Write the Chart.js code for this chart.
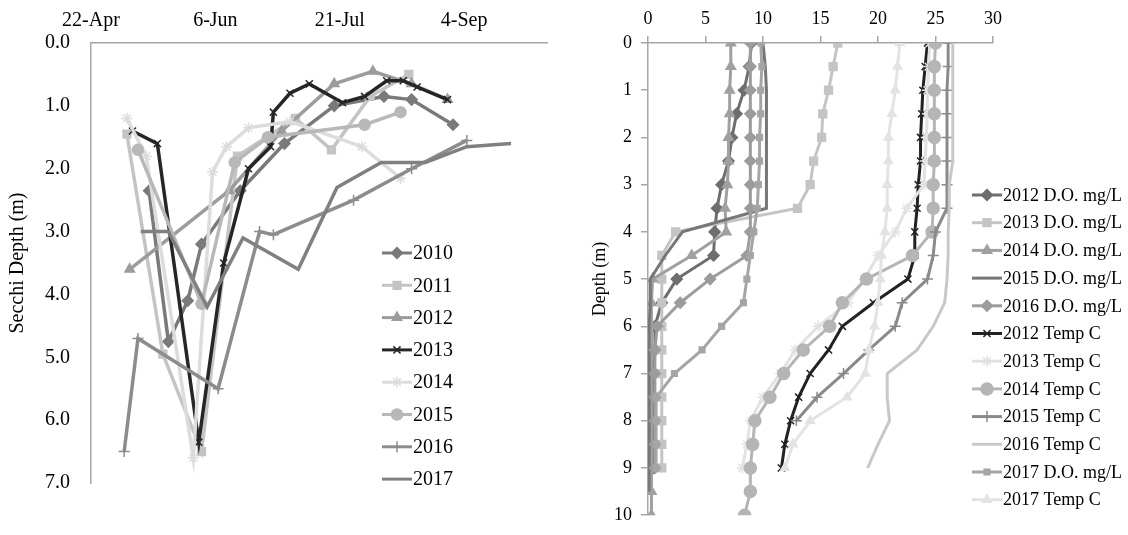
<!DOCTYPE html>
<html>
<head>
<meta charset="utf-8">
<script src="https://cdn.jsdelivr.net/npm/chart.js@4.4.1/dist/chart.umd.min.js"></script>
<style>
    html, body { margin: 0; padding: 0; background: #fff; }
    #wrap { position: relative; width: 1128px; height: 535px; }
    #secchiChart { position: absolute; left: 0; top: 0; }
    #profileChart { position: absolute; left: 560px; top: 0; }
</style>
</head>
<body>
<div id="wrap">
    <canvas id="secchiChart" width="560" height="535"></canvas>
    <canvas id="profileChart" width="568" height="535"></canvas>
</div>
<script>
// ---- Secchi depth (left panel): x = days after 22-Apr, y = depth (m)
const dateTickDays = [0, 45, 90, 135];
const dateTickLabels = ['22-Apr', '6-Jun', '21-Jul', '4-Sep'];

const days2010 = [21, 28, 35, 40, 54, 70, 88, 106, 116, 131];
const secchi2010 = [2.35, 4.75, 4.1, 3.2, 2.35, 1.6, 1.0, 0.85, 0.9, 1.3];
const days2011 = [13, 26, 40, 53, 74, 87, 101, 115];
const secchi2011 = [1.45, 4.95, 6.5, 1.8, 1.2, 1.7, 0.85, 0.5];
const days2012 = [14, 50, 69, 88, 102, 116, 129];
const secchi2012 = [3.6, 2.35, 1.4, 0.65, 0.45, 0.65, 0.9];
const days2013 = [15, 24, 39, 48, 57, 65, 66, 72, 79, 91, 99, 107, 113, 118, 129];
const secchi2013 = [1.4, 1.6, 6.35, 3.5, 2.0, 1.65, 1.1, 0.8, 0.65, 0.95, 0.85, 0.6, 0.6, 0.7, 0.9];
const days2014 = [13, 20, 37, 44, 49, 57, 72, 98, 112];
const secchi2014 = [1.2, 1.8, 6.6, 2.05, 1.65, 1.35, 1.25, 1.65, 2.15];
const days2015 = [17, 40, 52, 64, 99, 112];
const secchi2015 = [1.7, 4.15, 1.9, 1.5, 1.3, 1.1];
const days2016 = [12, 17, 46, 61, 66, 95, 116, 136];
const secchi2016 = [6.5, 4.7, 5.5, 3.0, 3.05, 2.5, 2.0, 1.55];
const days2017 = [18, 28, 42, 55, 75, 89, 105, 121, 136, 152];
const secchi2017 = [3.0, 3.0, 4.2, 3.1, 3.6, 2.3, 1.9, 1.9, 1.65, 1.6];

// ---- Depth profiles (right panel): depth (m) vs value
const profileDepths = [0, 0.5, 1, 1.5, 2, 2.5, 3, 3.5, 4, 4.5, 5, 5.5, 6, 6.5, 7, 7.5, 8, 8.5, 9, 9.5, 10];

const do2012 = [9.0, 8.8, 8.35, 7.7, 7.3, 7.0, 6.4, 6.0, 5.8, 5.7, 2.5, 1.2, 0.6, 0.6, 0.5, 0.5, 0.5, 0.5, 0.5];
const do2013 = [16.5, 16.1, 15.7, 15.2, 15.1, 14.4, 14.1, 13.0, 2.4, 1.2, 1.2, 1.2, 1.2, 1.2, 1.2, 1.2, 1.2, 1.2, 1.2];
const do2014 = [7.2, 7.2, 7.1, 7.1, 7.0, 7.0, 6.9, 6.7, 6.8, 3.8, 0.4, 0.3, 0.3, 0.3, 0.3, 0.3, 0.3, 0.3, 0.3, 0.3, 0.3];
const do2015 = [10.0, 10.2, 10.3, 10.3, 10.3, 10.3, 10.3, 10.3, 3.0, 1.5, 0.2, 0.2, 0.1, 0.1, 0.1, 0.1, 0.1, 0.1, 0.1, 0.1];
const do2016 = [8.9, 8.9, 8.9, 8.9, 8.9, 8.9, 8.9, 8.9, 8.9, 8.6, 5.4, 2.8, 0.8, 0.6, 0.6, 0.6, 0.6, 0.6, 0.6];
const temp2012 = [24.3, 24.1, 23.9, 23.8, 23.7, 23.7, 23.5, 23.4, 23.2, 23.2, 22.6, 19.6, 16.9, 15.7, 14.1, 13.1, 12.4, 11.9, 11.6];
const temp2013 = [24.5, 24.4, 24.3, 24.3, 24.2, 24.1, 24.0, 22.5, 21.5, 20.0, 18.8, 17.4, 14.8, 12.8, 11.5, 10.0, 8.9, 8.6, 8.2];
const temp2014 = [25.0, 24.9, 24.9, 24.9, 24.9, 24.9, 24.8, 24.8, 24.7, 23.0, 19.0, 16.9, 15.8, 13.5, 11.8, 10.6, 9.3, 9.1, 8.9, 8.9, 8.4];
const temp2015 = [26.1, 26.1, 26.0, 26.0, 26.0, 26.0, 26.0, 26.0, 25.0, 24.8, 24.3, 22.1, 21.5, 19.2, 17.0, 14.7, 12.9];
const temp2016 = [26.5, 26.5, 26.5, 26.5, 26.5, 26.5, 26.2, 26.2, 26.1, 26.1, 26.0, 25.8, 24.8, 23.4, 20.8, 20.8, 21.0, 20.0, 19.1];
const do2017 = [9.8, 9.9, 9.8, 9.8, 9.7, 9.7, 9.6, 9.5, 9.2, 8.9, 8.6, 8.3, 6.4, 4.7, 2.3, 0.7, 0.7, 0.7, 0.7];
const temp2017 = [21.9, 21.7, 21.5, 21.2, 20.9, 20.9, 20.8, 20.8, 20.6, 20.3, 20.2, 20.0, 19.7, 19.2, 18.9, 17.3, 14.1, 12.6, 11.9];

const serif = "'Liberation Serif', 'Times New Roman', serif";
Chart.defaults.font.family = serif;
Chart.defaults.color = '#000';
const axisGray = '#a6a6a6';

function toPoints(xs, ys) {
    return xs.map((x, i) => ({ x: x, y: ys[i] }));
}

function makeSeries(label, points, color, style, radius, width, index, count) {
    return {
        label: label,
        data: points,
        borderColor: color,
        backgroundColor: color,
        pointBackgroundColor: color,
        pointBorderColor: color,
        borderWidth: width,
        pointStyle: style || false,
        pointRadius: style ? radius : 0,
        pointBorderWidth: 1.5,
        tension: 0,
        order: count - index
    };
}

// legend drawn Excel style: short line with the marker in the middle
function excelLegend(id, x0, y0, gap, fontSize) {
    return {
        id: id,
        afterDraw(chart) {
            const ctx = chart.ctx;
            ctx.save();
            chart.data.datasets.forEach((ds, i) => {
                const y = y0 + i * gap;
                ctx.strokeStyle = ds.borderColor;
                ctx.lineWidth = 3;
                ctx.beginPath();
                ctx.moveTo(x0, y);
                ctx.lineTo(x0 + 30, y);
                ctx.stroke();
                if (ds.pointStyle) {
                    ctx.fillStyle = ds.borderColor;
                    ctx.lineWidth = 1.5;
                    Chart.helpers.drawPoint(ctx, {
                        pointStyle: ds.pointStyle, radius: ds.pointRadius, rotation: 0, borderWidth: 1.5
                    }, x0 + 15, y);
                }
                ctx.fillStyle = '#000';
                ctx.font = fontSize + 'px ' + serif;
                ctx.textAlign = 'left';
                ctx.textBaseline = 'middle';
                ctx.fillText(ds.label, x0 + 31, y + 1);
            });
            ctx.restore();
        }
    };
}

// Secchi chart
const secchiDefs = [
    ['2010', days2010, secchi2010, '#7a7a7a', 'rectRot', 5.5],
    ['2011', days2011, secchi2011, '#c4c4c4', 'rect', 5.5],
    ['2012', days2012, secchi2012, '#9c9c9c', 'triangle', 5.5],
    ['2013', days2013, secchi2013, '#262626', 'crossRot', 5],
    ['2014', days2014, secchi2014, '#dcdcdc', 'star', 5.5],
    ['2015', days2015, secchi2015, '#b8b8b8', 'circle', 5.5],
    ['2016', days2016, secchi2016, '#8c8c8c', 'cross', 5.5],
    ['2017', days2017, secchi2017, '#808080', null, 0]
];

new Chart(document.getElementById('secchiChart'), {
    type: 'line',
    data: {
        datasets: secchiDefs.map((d, i) =>
            makeSeries(d[0], toPoints(d[1], d[2]), d[3], d[4], d[5], 3.5, i, secchiDefs.length))
    },
    options: {
        responsive: false,
        animation: false,
        layout: { padding: { left: 0, top: 0, right: 13, bottom: 52 } },
        plugins: { legend: { display: false }, tooltip: { enabled: false } },
        scales: {
            x: {
                type: 'linear',
                position: 'top',
                min: 0,
                max: 165,
                grid: { display: false, drawTicks: false },
                border: { display: true, color: axisGray, width: 1.5 },
                ticks: {
                    stepSize: 45,
                    padding: 10,
                    font: { size: 20 },
                    maxRotation: 0,
                    callback: v => {
                        const i = dateTickDays.indexOf(v);
                        return i >= 0 ? dateTickLabels[i] : null;
                    }
                },
                afterFit: s => { s.height = 43; }
            },
            y: {
                type: 'linear',
                reverse: true,
                min: 0,
                max: 7,
                grid: { display: false, drawTicks: false },
                border: { display: true, color: axisGray, width: 1.5 },
                ticks: { stepSize: 1, padding: 21, font: { size: 20 }, callback: v => v.toFixed(1) },
                title: { display: true, text: 'Secchi Depth (m)', font: { size: 20 }, padding: { top: 6 } },
                afterFit: s => { s.width = 91; }
            }
        }
    },
    plugins: [excelLegend('secchiLegend', 382, 253, 32.3, 20)]
});

// Profile chart
const profileDefs = [
    ['2012 D.O. mg/L', do2012, '#6e6e6e', 'rectRot', 5.5],
    ['2013 D.O. mg/L', do2013, '#c4c4c4', 'rect', 5.5],
    ['2014 D.O. mg/L', do2014, '#a0a0a0', 'triangle', 5.5],
    ['2015 D.O. mg/L', do2015, '#777777', null, 0],
    ['2016 D.O. mg/L', do2016, '#9c9c9c', 'rectRot', 5.5],
    ['2012 Temp C', temp2012, '#222222', 'crossRot', 5],
    ['2013 Temp C', temp2013, '#e2e2e2', 'star', 5.5],
    ['2014 Temp C', temp2014, '#b5b5b5', 'circle', 6],
    ['2015 Temp C', temp2015, '#8a8a8a', 'cross', 5.5],
    ['2016 Temp C', temp2016, '#c8c8c8', null, 0],
    ['2017 D.O. mg/L', do2017, '#a5a5a5', 'rect', 4],
    ['2017 Temp C', temp2017, '#e3e3e3', 'triangle', 5]
];

new Chart(document.getElementById('profileChart'), {
    type: 'line',
    data: {
        datasets: profileDefs.map((d, i) =>
            makeSeries(d[0], toPoints(d[1], profileDepths), d[2], d[3], d[4], 3, i, profileDefs.length))
    },
    options: {
        responsive: false,
        animation: false,
        layout: { padding: { left: 0, top: 0, right: 135, bottom: 10 } },
        plugins: { legend: { display: false }, tooltip: { enabled: false } },
        scales: {
            x: {
                type: 'linear',
                position: 'top',
                min: 0,
                max: 30,
                grid: { display: true, drawOnChartArea: false, drawTicks: true, tickLength: 7, color: axisGray, lineWidth: 1.5 },
                border: { display: true, color: axisGray, width: 1.5 },
                ticks: { stepSize: 5, padding: 6, font: { size: 18 }, maxRotation: 0 },
                afterFit: s => { s.height = 43; }
            },
            y: {
                type: 'linear',
                reverse: true,
                min: 0,
                max: 10,
                grid: { display: true, drawOnChartArea: false, drawTicks: true, tickLength: 7, color: axisGray, lineWidth: 1.5 },
                border: { display: true, color: axisGray, width: 1.5 },
                ticks: { stepSize: 1, padding: 9, font: { size: 18 } },
                title: { display: true, text: 'Depth (m)', font: { size: 18 }, padding: { top: 29 } },
                afterFit: s => { s.width = 88; }
            }
        }
    },
    plugins: [excelLegend('profileLegend', 412, 195, 27.7, 18)]
});
</script>
</body>
</html>
